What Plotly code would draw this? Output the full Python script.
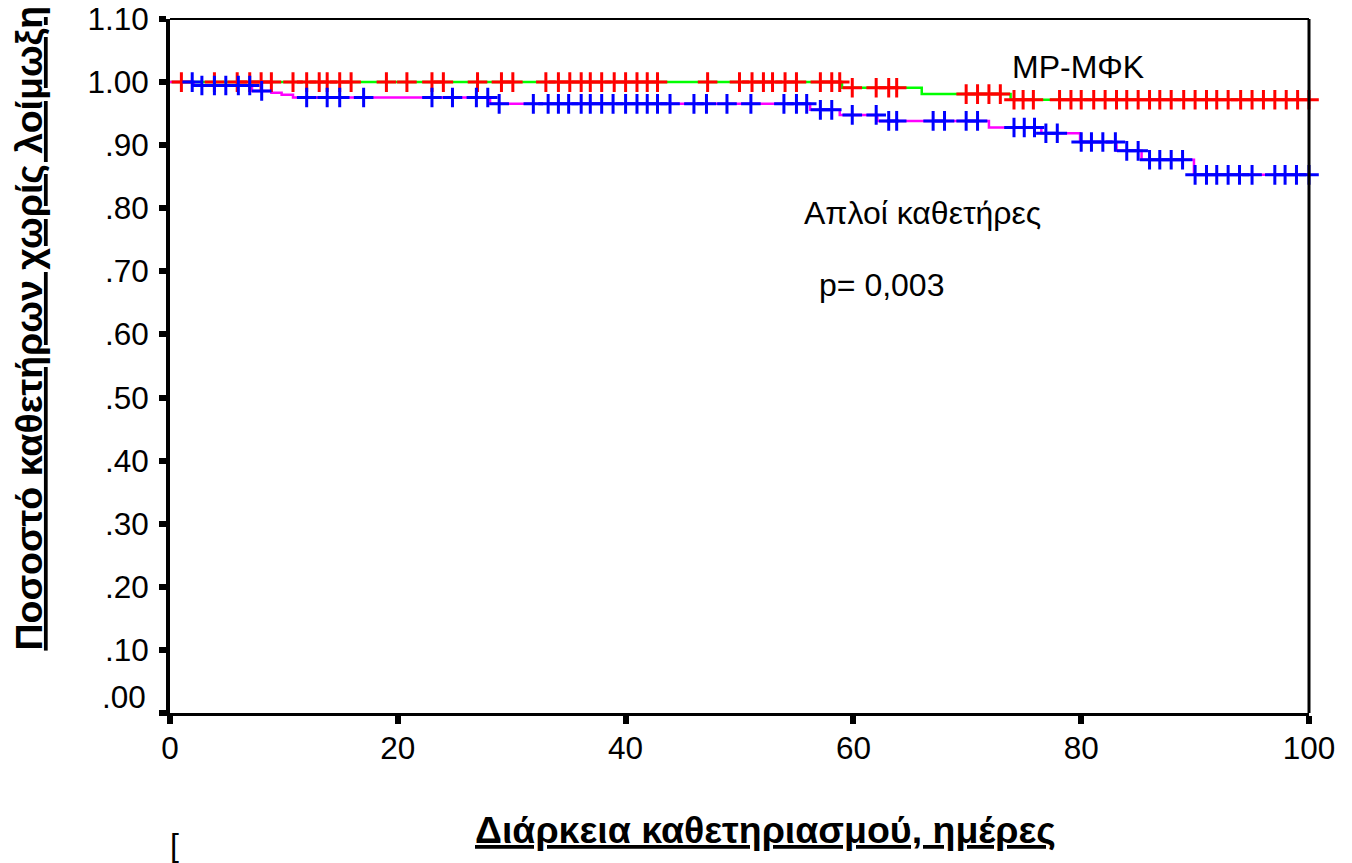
import plotly.graph_objects as go

# ---------------- data ----------------
# Group "ΜΡ-ΜΦΚ": event times (days) and survival after each event
mp_event_days = [59.0, 66.0, 73.8]
mp_event_surv = [0.991, 0.981, 0.972]
# censored observations (days)
mp_censor_days = [1.0, 3.9, 5.9, 7.0, 8.0, 8.9, 10.8, 12.0, 13.1, 13.8, 14.9, 15.9,
                  19.0, 20.8, 23.0, 24.0, 27.0, 29.1, 30.1, 33.0, 34.1, 35.1, 36.1,
                  36.9, 37.9, 39.0, 40.0, 41.0, 41.9, 42.8, 47.2, 50.0, 51.1, 52.1,
                  52.9, 54.0, 55.0, 57.1, 58.1, 58.8, 59.9, 62.0, 63.1, 63.8, 69.9,
                  70.9, 71.9, 72.9, 74.1, 74.9, 75.8, 78.1, 79.1, 80.0, 81.1, 82.1,
                  83.1, 84.0, 85.0, 86.0, 86.9, 87.9, 89.0, 90.0, 91.0, 91.9, 92.9,
                  94.0, 95.0, 96.0, 97.0, 98.0, 99.0, 100.0]

# Group "Απλοί καθετήρες"
simple_event_days = [2.1, 7.2, 8.9, 9.8, 10.8, 28.1, 56.2, 58.8, 62.1, 71.9,
                     76.5, 79.9, 83.1, 85.3, 89.9]
simple_event_surv = [0.9945, 0.986, 0.983, 0.980, 0.9755, 0.9655, 0.956, 0.948,
                     0.9385, 0.928, 0.919, 0.905, 0.891, 0.877, 0.853]
simple_censor_days = [1.95, 2.8, 3.9, 4.9, 6.0, 7.0, 8.05, 12.0, 13.8, 14.9, 17.0,
                      23.0, 24.8, 26.9, 27.9, 28.9, 31.9, 33.2, 34.1, 35.0, 36.1,
                      36.9, 37.9, 38.9, 40.0, 41.0, 41.9, 42.8, 43.9, 46.0, 47.1,
                      48.9, 51.0, 53.9, 55.0, 55.9, 57.1, 58.1, 59.9, 62.0, 63.1,
                      63.8, 67.0, 68.0, 69.9, 70.9, 74.1, 75.0, 75.9, 76.9, 77.9,
                      80.0, 80.9, 81.9, 83.0, 84.0, 85.0, 86.0, 86.9, 87.9, 88.9,
                      90.0, 91.0, 91.9, 92.9, 93.9, 95.0, 97.0, 97.9, 98.9, 100.0]

y_tick_vals = [0.0, 0.1, 0.2, 0.3, 0.4, 0.5, 0.6, 0.7, 0.8, 0.9, 1.0, 1.1]
y_tick_text = ["", ".10", ".20", ".30", ".40", ".50", ".60", ".70", ".80", ".90",
               "1.00", "1.10"]
y_zero_label = ".00"   # drawn slightly above its tick, as in the reference
x_tick_vals = [0, 20, 40, 60, 80, 100]

X_END = 100.0
FONT = "Arial, 'Liberation Sans', sans-serif"


def step_points(ev_t, ev_s, t_end):
    xs = [0.0] + list(ev_t) + [t_end]
    ys = [1.0] + list(ev_s) + [ev_s[-1]]
    return xs, ys


def surv_at(t, ev_t, ev_s):
    s = 1.0
    for et, es in zip(ev_t, ev_s):
        if et <= t:
            s = es
    return s


fig = go.Figure()

mx, my = step_points(mp_event_days, mp_event_surv, X_END)
sx, sy = step_points(simple_event_days, simple_event_surv, X_END)

fig.add_trace(go.Scatter(x=mx, y=my, mode="lines", line_shape="hv",
                         line=dict(color="#00ff00", width=2.5),
                         name="ΜΡ-ΜΦΚ", showlegend=False, hoverinfo="skip"))
fig.add_trace(go.Scatter(x=sx, y=sy, mode="lines", line_shape="hv",
                         line=dict(color="#ff00ff", width=2.5),
                         name="Απλοί καθετήρες", showlegend=False, hoverinfo="skip"))

fig.add_trace(go.Scatter(
    x=mp_censor_days,
    y=[surv_at(t, mp_event_days, mp_event_surv) for t in mp_censor_days],
    mode="markers", cliponaxis=False, showlegend=False,
    marker=dict(symbol="cross-thin", size=14, color="#ff0000",
                line=dict(color="#ff0000", width=3))))
fig.add_trace(go.Scatter(
    x=simple_censor_days,
    y=[surv_at(t, simple_event_days, simple_event_surv) for t in simple_censor_days],
    mode="markers", cliponaxis=False, showlegend=False,
    marker=dict(symbol="cross-thin", size=14, color="#0000ff",
                line=dict(color="#0000ff", width=3))))

fig.update_layout(
    width=1352, height=863,
    margin=dict(l=170, r=43, t=19, b=150, autoexpand=False),
    paper_bgcolor="white", plot_bgcolor="white",
    font=dict(family=FONT, color="black", size=31.5),
    xaxis=dict(range=[0, 100], tickvals=x_tick_vals, ticks="outside",
               ticklen=8, tickwidth=6, tickcolor="black",
               showline=True, linecolor="black", linewidth=3,
               showgrid=False, zeroline=False,
               tickfont=dict(size=31.5, family=FONT), ticklabelstandoff=-3),
    yaxis=dict(range=[0, 1.1], tickvals=y_tick_vals, ticktext=y_tick_text,
               ticks="outside", ticklen=7, tickwidth=6, tickcolor="black",
               showline=True, linecolor="black", linewidth=4,
               showgrid=False, zeroline=False,
               tickfont=dict(size=31.5, family=FONT), ticklabelstandoff=4),
    shapes=[
        dict(type="line", xref="x domain", yref="y domain", x0=0, x1=1, y0=1, y1=1,
             line=dict(color="black", width=2)),
        dict(type="line", xref="x domain", yref="y domain", x0=1, x1=1, y0=0, y1=1,
             line=dict(color="black", width=3)),
    ],
    annotations=[
        dict(text=y_zero_label, x=-0.0193, y=0.023, xref="paper", yref="paper",
             xanchor="right", yanchor="middle", showarrow=False,
             font=dict(size=31.5, family=FONT)),
        dict(text="ΜΡ-ΜΦΚ", x=79.7, y=1.024, xref="x", yref="y",
             showarrow=False, font=dict(size=32, family=FONT)),
        dict(text="Απλοί καθετήρες", x=66.1, y=0.792, xref="x", yref="y",
             showarrow=False, font=dict(size=32, family=FONT)),
        dict(text="p= 0,003", x=62.5, y=0.678, xref="x", yref="y",
             showarrow=False, font=dict(size=32, family=FONT)),
        dict(text="<b><u>Διάρκεια καθετηριασμού, ημέρες</u></b>",
             x=0.523, y=-0.169, xref="paper", yref="paper",
             xanchor="center", yanchor="middle", showarrow=False,
             font=dict(size=37.5, family=FONT)),
        dict(text="<b><u>Ποσοστό καθετήρων χωρίς λοίμωξη</u></b>",
             x=-0.124, y=0.555, xref="paper", yref="paper", textangle=-90,
             xanchor="center", yanchor="middle", showarrow=False,
             font=dict(size=37.5, family=FONT)),
        dict(text="[", x=0.004, y=-0.162, xref="paper", yref="paper",
             xanchor="center", yanchor="top", showarrow=False,
             font=dict(size=32, family=FONT)),
    ],
)

fig.write_html("out.html", config={"displayModeBar": False},
               post_script="document.body.style.margin='0px';")
